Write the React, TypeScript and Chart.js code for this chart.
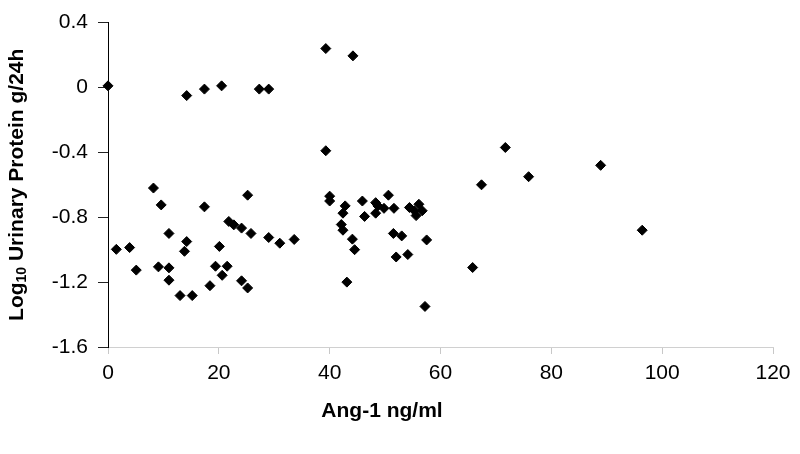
import React, { useEffect, useRef } from "react";
import { Chart, registerables } from "chart.js";

Chart.register(...registerables);

// Ang-1 (ng/ml)
const angX: number[] = [
  0, 14.2, 17.4, 20.5, 27.3, 29.0, 39.3, 44.2, 39.3,
  71.7, 67.4, 75.9, 88.9, 96.4, 65.8,
  40.0, 40.0, 42.8, 42.4, 45.9, 46.3, 48.3, 48.7, 48.3, 50.6, 49.8, 51.6, 54.4, 56.1, 55.6, 56.7, 55.3,
  42.1, 42.4, 44.1, 44.5, 51.5, 53.0, 57.5, 52.0, 54.1, 43.1, 57.2,
  8.2, 9.6, 17.4, 25.2, 21.8, 22.7, 24.1, 25.8, 11.0, 14.2, 13.8, 20.1, 29.0, 31.0, 33.6,
  1.5, 3.9, 5.1, 9.1, 11.0, 11.0, 13.0, 15.2, 18.4, 19.4, 21.5, 20.6, 24.1, 25.2,
];

// Log10 urinary protein (g/24h)
const logProtein: number[] = [
  0.01, -0.05, -0.01, 0.01, -0.01, -0.01, 0.24, 0.195, -0.39,
  -0.37, -0.6, -0.55, -0.48, -0.88, -1.11,
  -0.67, -0.7, -0.73, -0.775, -0.7, -0.795, -0.71, -0.73, -0.775, -0.664, -0.745, -0.745, -0.74, -0.72, -0.79, -0.76, -0.76,
  -0.845, -0.88, -0.935, -1.0, -0.9, -0.915, -0.94, -1.045, -1.03, -1.2, -1.35,
  -0.62, -0.724, -0.736, -0.664, -0.826, -0.847, -0.867, -0.9, -0.9, -0.95, -1.01, -0.98, -0.925, -0.96, -0.937,
  -0.998, -0.987, -1.126, -1.106, -1.112, -1.188, -1.283, -1.283, -1.222, -1.102, -1.102, -1.158, -1.192, -1.236,
];

const xTicks: number[] = [0, 20, 40, 60, 80, 100, 120];
const yTicks: number[] = [-1.6, -1.2, -0.8, -0.4, 0, 0.4];
const yTickLabels: string[] = ["-1.6", "-1.2", "-0.8", "-0.4", "0", "0.4"];

const xTitle = "Ang-1 ng/ml";
const yTitleMain = "Log";
const yTitleSub = "10";
const yTitleRest = " Urinary Protein g/24h";

const FONT = "'Liberation Sans', Arial, sans-serif";

const titlesPlugin = {
  id: "axisTitles",
  afterDraw(chart: any) {
    const ctx = chart.ctx as CanvasRenderingContext2D;
    const area = chart.chartArea;
    ctx.save();
    ctx.fillStyle = "#000";
    // x title
    ctx.font = `bold 21px ${FONT}`;
    ctx.textAlign = "center";
    ctx.textBaseline = "middle";
    ctx.fillText(xTitle, 382, 411);

    // y title with subscript
    const mainFont = `bold 21px ${FONT}`;
    const subFont = `bold 14px ${FONT}`;
    ctx.font = mainFont;
    const w1 = ctx.measureText(yTitleMain).width;
    const w3 = ctx.measureText(yTitleRest).width;
    ctx.font = subFont;
    const w2 = ctx.measureText(yTitleSub).width;
    const total = w1 + w2 + w3;
    const cy = (area.top + area.bottom) / 2;
    ctx.translate(17, cy);
    ctx.rotate(-Math.PI / 2);
    ctx.textAlign = "left";
    ctx.textBaseline = "middle";
    let x = -total / 2;
    ctx.font = mainFont;
    ctx.fillText(yTitleMain, x, 0);
    x += w1;
    ctx.font = subFont;
    ctx.fillText(yTitleSub, x, 5);
    x += w2;
    ctx.font = mainFont;
    ctx.fillText(yTitleRest, x, 0);
    ctx.restore();
  },
};

export default function App() {
  const ref = useRef<HTMLCanvasElement | null>(null);

  useEffect(() => {
    if (!ref.current) return;
    const points = angX.map((x, i) => ({ x, y: logProtein[i] }));
    const chart = new Chart(ref.current, {
      type: "scatter",
      data: {
        datasets: [
          {
            data: points,
            pointStyle: "rectRot",
            pointRadius: 5,
            pointBorderWidth: 1,
            backgroundColor: "#000",
            borderColor: "#000",
            clip: false,
          } as any,
        ],
      },
      options: {
        animation: false,
        responsive: false,
        layout: { padding: { top: 16, right: 27, bottom: 0, left: 0 } },
        plugins: {
          legend: { display: false },
          tooltip: { enabled: false },
        },
        scales: {
          x: {
            type: "linear",
            min: 0,
            max: 120,
            afterBuildTicks: (s: any) => {
              s.ticks = xTicks.map((v) => ({ value: v }));
            },
            afterFit: (s: any) => {
              s.height = 107;
            },
            grid: {
              drawOnChartArea: false,
              drawTicks: true,
              tickLength: 7,
              color: "#c8c8c8",
            },
            border: { color: "#d0d0d0", width: 1 },
            ticks: {
              font: { size: 21, family: FONT },
              color: "#000",
              padding: 7,
              maxRotation: 0,
              callback: (v: any) => String(v),
            },
          },
          y: {
            type: "linear",
            min: -1.6,
            max: 0.4,
            afterBuildTicks: (s: any) => {
              s.ticks = yTicks.map((v) => ({ value: v }));
            },
            afterFit: (s: any) => {
              s.width = 108;
            },
            grid: {
              drawOnChartArea: false,
              drawTicks: true,
              tickLength: 10,
              color: "#222",
            },
            border: { color: "#000", width: 1 },
            ticks: {
              font: { size: 21, family: FONT },
              color: "#000",
              padding: 10,
              callback: (v: any) => {
                const idx = yTicks.findIndex((t) => Math.abs(t - Number(v)) < 1e-6);
                return idx >= 0 ? yTickLabels[idx] : "";
              },
            },
          },
        },
      },
      plugins: [titlesPlugin],
    });
    return () => chart.destroy();
  }, []);

  return (
    <div
      style={{
        position: "fixed",
        left: 0,
        top: 0,
        width: 800,
        height: 454,
        background: "#fff",
      }}
    >
      <canvas ref={ref} width={800} height={454} />
    </div>
  );
}
